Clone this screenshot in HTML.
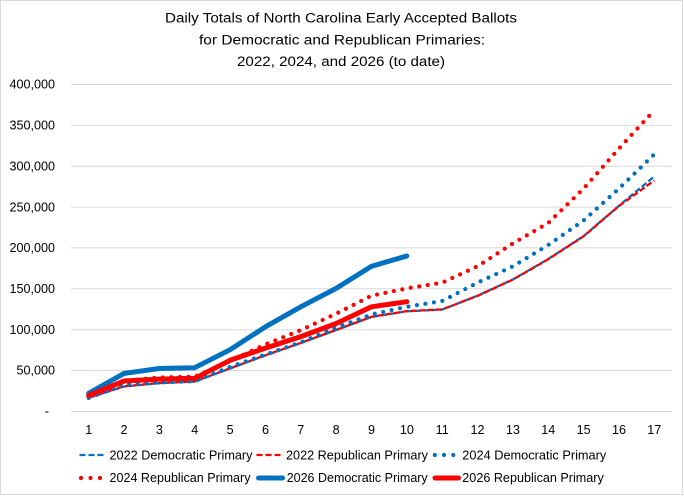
<!DOCTYPE html>
<html>
<head>
<meta charset="utf-8">
<style>
  html, body { margin: 0; padding: 0; background: #ffffff; }
  svg { display: block; }
  text { font-family: "Liberation Sans", Arial, sans-serif; fill: #000; }
</style>
</head>
<body>
<svg width="684" height="496" viewBox="0 0 684 496" xmlns="http://www.w3.org/2000/svg">
  <rect x="0" y="0" width="684" height="496" fill="#ffffff"/>
  <rect x="0.5" y="0.5" width="682" height="494" fill="none" stroke="#d9d9d9" stroke-width="1"/>

  <!-- Title -->
  <text x="341" y="22.5" font-size="13.5" text-anchor="middle" textLength="352" lengthAdjust="spacingAndGlyphs">Daily Totals of North Carolina Early Accepted Ballots</text>
  <text x="342" y="44.3" font-size="13.5" text-anchor="middle" textLength="286" lengthAdjust="spacingAndGlyphs">for Democratic and Republican Primaries:</text>
  <text x="341" y="66" font-size="13.5" text-anchor="middle" textLength="208" lengthAdjust="spacingAndGlyphs">2022, 2024, and 2026 (to date)</text>

  <!-- Gridlines -->
  <g stroke="#d9d9d9" stroke-width="1">
    <line x1="71" y1="84.5" x2="672" y2="84.5"/>
    <line x1="71" y1="125.4" x2="672" y2="125.4"/>
    <line x1="71" y1="166.2" x2="672" y2="166.2"/>
    <line x1="71" y1="207.1" x2="672" y2="207.1"/>
    <line x1="71" y1="247.9" x2="672" y2="247.9"/>
    <line x1="71" y1="288.8" x2="672" y2="288.8"/>
    <line x1="71" y1="329.7" x2="672" y2="329.7"/>
    <line x1="71" y1="370.5" x2="672" y2="370.5"/>
    <line x1="71" y1="411.5" x2="672" y2="411.5"/>
  </g>

  <!-- Y labels -->
  <g font-size="12.6" text-anchor="end">
    <text x="55" y="88.7">400,000</text>
    <text x="55" y="129.6">350,000</text>
    <text x="55" y="170.4">300,000</text>
    <text x="55" y="211.3">250,000</text>
    <text x="55" y="252.1">200,000</text>
    <text x="55" y="293">150,000</text>
    <text x="55" y="333.9">100,000</text>
    <text x="55" y="374.7">50,000</text>
    <text x="49" y="415.5">-</text>
  </g>

  <!-- X labels -->
  <g font-size="12.6" text-anchor="middle">
    <text x="88.7" y="434">1</text>
    <text x="124.05" y="434">2</text>
    <text x="159.4" y="434">3</text>
    <text x="194.75" y="434">4</text>
    <text x="230.1" y="434">5</text>
    <text x="265.45" y="434">6</text>
    <text x="300.8" y="434">7</text>
    <text x="336.15" y="434">8</text>
    <text x="371.5" y="434">9</text>
    <text x="406.85" y="434">10</text>
    <text x="442.2" y="434">11</text>
    <text x="477.55" y="434">12</text>
    <text x="512.9" y="434">13</text>
    <text x="548.25" y="434">14</text>
    <text x="583.6" y="434">15</text>
    <text x="618.95" y="434">16</text>
    <text x="654.3" y="434">17</text>
  </g>

  <!-- Series -->
  <g fill="none">
    <!-- 2022 Democratic -->
    <polyline stroke="#0070C0" stroke-width="2.3" stroke-dasharray="6 2.5" stroke-linejoin="round"
      points="88.7,397.9 124.05,386.5 159.4,383.2 194.75,381.6 230.1,368.5 265.45,355.4 300.8,343.1 336.15,330.1 371.5,317.0 406.85,311.3 442.2,309.6 477.55,295.7 512.9,279.4 548.25,259.0 583.6,236.1 618.95,205.8 654.3,176.4"/>
    <!-- 2022 Republican -->
    <polyline stroke="#FF0000" stroke-width="2.3" stroke-dasharray="6 2.5" stroke-dashoffset="4.25" stroke-linejoin="round"
      points="88.7,397.6 124.05,386.2 159.4,383.0 194.75,381.4 230.1,368.3 265.45,355.2 300.8,342.9 336.15,329.9 371.5,316.8 406.85,311.1 442.2,309.4 477.55,295.9 512.9,279.6 548.25,259.2 583.6,236.3 618.95,206.0 654.3,180.5"/>
    <!-- 2024 Democratic -->
    <polyline stroke="#0070C0" stroke-width="4.2" stroke-dasharray="0 8.6" stroke-linecap="round" stroke-linejoin="round"
      points="88.7,397.9 124.05,384.3 159.4,382.4 194.75,381.2 230.1,366.9 265.45,354.6 300.8,342.3 336.15,327.6 371.5,314.5 406.85,306.8 442.2,301.0 477.55,282.7 512.9,266.3 548.25,245.0 583.6,220.5 618.95,188.6 654.3,154.3"/>
    <!-- 2024 Republican -->
    <polyline stroke="#FF0000" stroke-width="4.2" stroke-dasharray="0 8.6" stroke-linecap="round" stroke-linejoin="round"
      points="88.7,396.3 124.05,380.8 159.4,377.5 194.75,376.7 230.1,361.1 265.45,344.4 300.8,330.1 336.15,313.7 371.5,295.7 406.85,288.4 442.2,282.7 477.55,266.3 512.9,243.4 548.25,223.0 583.6,188.6 618.95,148.6 654.3,110.2"/>
    <!-- 2026 Democratic -->
    <polyline stroke="#0070C0" stroke-width="5" stroke-linecap="round" stroke-linejoin="round"
      points="88.7,393.3 124.05,373.4 159.4,368.5 194.75,367.7 230.1,349.7 265.45,326.8 300.8,306.8 336.15,288.4 371.5,266.3 406.85,256.0"/>
    <!-- 2026 Republican -->
    <polyline stroke="#FF0000" stroke-width="5" stroke-linecap="round" stroke-linejoin="round"
      points="88.7,395.5 124.05,381.0 159.4,379.1 194.75,378.3 230.1,360.3 265.45,348.1 300.8,336.6 336.15,323.5 371.5,306.8 406.85,301.7"/>
  </g>

  <!-- Legend -->
  <g>
    <line x1="79.5" y1="455" x2="104" y2="455" stroke="#0070C0" stroke-width="2.3" stroke-dasharray="6 3"/>
    <text x="109.5" y="459.3" font-size="12.6" textLength="143" lengthAdjust="spacingAndGlyphs">2022 Democratic Primary</text>

    <line x1="256.5" y1="455" x2="282" y2="455" stroke="#FF0000" stroke-width="2.3" stroke-dasharray="6 3"/>
    <text x="286" y="459.3" font-size="12.6" textLength="142" lengthAdjust="spacingAndGlyphs">2022 Republican Primary</text>

    <circle cx="434.8" cy="455" r="2.1" fill="#0070C0"/>
    <circle cx="444" cy="455" r="2.1" fill="#0070C0"/>
    <circle cx="453.3" cy="455" r="2.1" fill="#0070C0"/>
    <text x="462.3" y="459.3" font-size="12.6" textLength="144" lengthAdjust="spacingAndGlyphs">2024 Democratic Primary</text>

    <circle cx="81" cy="478" r="2.1" fill="#FF0000"/>
    <circle cx="90.5" cy="478" r="2.1" fill="#FF0000"/>
    <circle cx="100" cy="478" r="2.1" fill="#FF0000"/>
    <text x="109.5" y="481.8" font-size="12.6" textLength="141" lengthAdjust="spacingAndGlyphs">2024 Republican Primary</text>

    <line x1="258.5" y1="478" x2="282.5" y2="478" stroke="#0070C0" stroke-width="5" stroke-linecap="round"/>
    <text x="286.7" y="481.8" font-size="12.6" textLength="141" lengthAdjust="spacingAndGlyphs">2026 Democratic Primary</text>

    <line x1="435" y1="478" x2="458.5" y2="478" stroke="#FF0000" stroke-width="5" stroke-linecap="round"/>
    <text x="462.3" y="481.8" font-size="12.6" textLength="141.5" lengthAdjust="spacingAndGlyphs">2026 Republican Primary</text>
  </g>
</svg>
</body>
</html>
